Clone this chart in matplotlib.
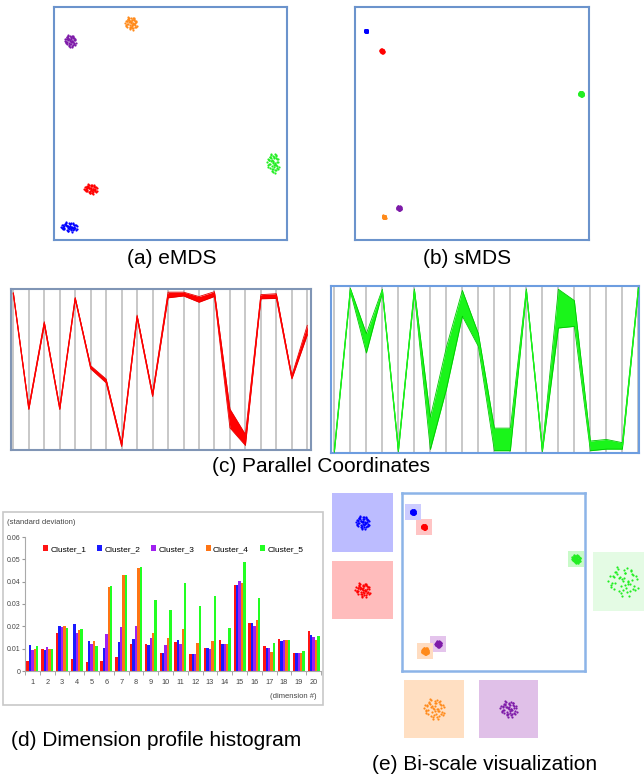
import matplotlib
matplotlib.use("Agg")
import matplotlib.pyplot as plt
from matplotlib.patches import Rectangle

plt.rcParams['font.family'] = ['Liberation Sans', 'DejaVu Sans']

W, H = 644, 777

cluster_names = ["Cluster_1", "Cluster_2", "Cluster_3", "Cluster_4", "Cluster_5"]
dot_colors = ["#ff0000", "#0000ff", "#7d1aa8", "#ff8a1a", "#22ee22"]
bar_colors = ["#ff1414", "#1a1aff", "#a020f0", "#ff7414", "#22ff22"]
tile_small = ["#ffc4c4", "#ccccff", "#e4c4ec", "#ffdcc0", "#c8fac8"]
tile_big = ["#ffbcbc", "#bcbcff", "#e0c0e8", "#ffdfc2", "#e4fbe4"]

# shared hand-read point offsets inside one cluster (unit half-extent)
jit_x = [0.12, -0.35, 0.58, -0.72, 0.05, 0.41, -0.18, 0.87, -0.55, 0.26,
         -0.91, 0.33, -0.08, 0.64, -0.44, 0.19, -0.27, 0.76, -0.63, 0.02,
         0.48, -0.12, 0.31, -0.38, 0.69, -0.81, 0.15, -0.52, 0.92, -0.22,
         0.07, 0.55, -0.67, 0.24, -0.05, 0.38, -0.47, 0.81, -0.15, 0.44,
         -0.29, 0.61, -0.74, 0.10, -0.58, 0.29, -0.02, 0.50]
jit_y = [-0.21, 0.44, 0.09, -0.33, 0.71, -0.62, 0.28, 0.15, -0.48, 0.83,
         0.06, -0.17, -0.88, 0.39, 0.57, -0.41, 0.19, -0.55, 0.32, 0.02,
         0.66, -0.73, -0.04, 0.91, -0.26, 0.37, 0.51, -0.12, -0.38, -0.59,
         0.24, 0.47, -0.08, -0.69, 0.13, -0.94, 0.61, 0.35, -0.31, -0.14,
         0.78, -0.46, -0.19, 0.54, 0.27, 0.03, -0.52, 0.73]

# (a) eMDS cluster centres / spread
emds_x = [0.157, 0.064, 0.069, 0.330, 0.940]
emds_y = [0.219, 0.056, 0.854, 0.930, 0.330]
emds_sx = [0.030, 0.038, 0.026, 0.027, 0.027]
emds_sy = [0.022, 0.021, 0.028, 0.030, 0.045]

# (b) sMDS
smds_x = [0.115, 0.047, 0.188, 0.124, 0.966]
smds_y = [0.811, 0.897, 0.137, 0.099, 0.627]
smds_s = [0.008, 0.006, 0.009, 0.007, 0.011]

# (e) bi-scale: overview positions and magnified spread
bi_x = [0.120, 0.060, 0.197, 0.126, 0.951]
bi_y = [0.809, 0.893, 0.152, 0.112, 0.629]
bi_s = [0.014, 0.014, 0.017, 0.020, 0.024]
zoom_s = [0.13, 0.12, 0.15, 0.19, 0.27]

# (c) parallel coordinates, 20 dims
dims = list(range(1, 21))
pc_red_mid = [0.985, 0.254, 0.795, 0.254, 0.953, 0.515, 0.428, 0.021, 0.837, 0.339,
              0.975, 0.981, 0.947, 0.981, 0.190, 0.053, 0.964, 0.968, 0.451, 0.752]
pc_red_sp = [0.004, 0.008, 0.010, 0.008, 0.006, 0.010, 0.012, 0.010, 0.010, 0.010,
             0.018, 0.012, 0.018, 0.015, 0.060, 0.035, 0.013, 0.015, 0.010, 0.030]
pc_grn_mid = [0.000, 0.996, 0.665, 0.990, 0.004, 0.990, 0.107, 0.510, 0.913, 0.686,
              0.070, 0.070, 0.990, 0.004, 0.880, 0.850, 0.030, 0.040, 0.030, 1.000]
pc_grn_sp = [0.010, 0.010, 0.060, 0.010, 0.010, 0.012, 0.100, 0.130, 0.080, 0.040,
             0.070, 0.070, 0.012, 0.010, 0.120, 0.080, 0.030, 0.030, 0.020, 0.010]

# (d) standard deviation per dimension
hist_c1 = [0.0043, 0.0099, 0.0171, 0.0053, 0.0040, 0.0046, 0.0062, 0.0122, 0.0122, 0.0080,
           0.0129, 0.0074, 0.0104, 0.0137, 0.0383, 0.0217, 0.0110, 0.0144, 0.0082, 0.0180]
hist_c2 = [0.0118, 0.0095, 0.0203, 0.0211, 0.0134, 0.0104, 0.0129, 0.0144, 0.0116, 0.0080,
           0.0137, 0.0074, 0.0101, 0.0120, 0.0383, 0.0215, 0.0101, 0.0135, 0.0079, 0.0162]
hist_c3 = [0.0092, 0.0107, 0.0199, 0.0169, 0.0122, 0.0166, 0.0196, 0.0203, 0.0147, 0.0117,
           0.0120, 0.0074, 0.0098, 0.0120, 0.0401, 0.0202, 0.0101, 0.0140, 0.0082, 0.0153]
hist_c4 = [0.0100, 0.0099, 0.0202, 0.0184, 0.0135, 0.0377, 0.0428, 0.0462, 0.0169, 0.0149,
           0.0189, 0.0126, 0.0135, 0.0120, 0.0395, 0.0230, 0.0083, 0.0141, 0.0080, 0.0141]
hist_c5 = [0.0110, 0.0099, 0.0192, 0.0189, 0.0111, 0.0379, 0.0428, 0.0465, 0.0318, 0.0273,
           0.0392, 0.0291, 0.0336, 0.0192, 0.0487, 0.0327, 0.0126, 0.0138, 0.0088, 0.0157]
hist_all = [hist_c1, hist_c2, hist_c3, hist_c4, hist_c5]

fig = plt.figure(figsize=(W / 100, H / 100), dpi=100)


def px_axes(x0, y0, x1, y1):
    return fig.add_axes([x0 / W, 1 - y1 / H, (x1 - x0) / W, (y1 - y0) / H])


def box_style(ax, edge, lw=1.5):
    ax.set_xlim(0, 1)
    ax.set_ylim(0, 1)
    ax.set_xticks([])
    ax.set_yticks([])
    for s in ax.spines.values():
        s.set_color(edge)
        s.set_linewidth(lw)


def cloud(ax, cx, cy, sx, sy, color, size):
    xs = [cx + sx * j for j in jit_x]
    ys = [cy + sy * j for j in jit_y]
    ax.scatter(xs, ys, s=size, c=color, linewidths=0)


# (a) eMDS
ax = px_axes(54, 7, 287, 240)
box_style(ax, "#6b93cc")
for i in range(5):
    cloud(ax, emds_x[i], emds_y[i], emds_sx[i], emds_sy[i], dot_colors[i], 2.5)

# (b) sMDS
ax = px_axes(355, 7, 589, 240)
box_style(ax, "#6b93cc")
for i in range(5):
    cloud(ax, smds_x[i], smds_y[i], smds_s[i], smds_s[i], dot_colors[i], 3)

fig.text(172 / W, 1 - 258 / H, "(a) eMDS", ha="center", va="center", fontsize=15)
fig.text(467 / W, 1 - 258 / H, "(b) sMDS", ha="center", va="center", fontsize=15)


# (c) parallel coordinates
def pc_panel(box, xlim, ylim, mid, sp, fill, edge, frame):
    ax = px_axes(*box)
    for d in dims:
        ax.axvline(d, color="#c4c4c4", lw=1.3, zorder=0)
    lo = [m - s for m, s in zip(mid, sp)]
    hi = [m + s for m, s in zip(mid, sp)]
    ax.fill_between(dims, lo, hi, color=fill, lw=0, zorder=2)
    ax.plot(dims, lo, color=edge, lw=0.6, zorder=3)
    ax.plot(dims, hi, color=edge, lw=0.6, zorder=3)
    ax.plot(dims, mid, color=fill, lw=0.9, zorder=3)
    ax.set_xlim(*xlim)
    ax.set_ylim(*ylim)
    ax.set_xticks([])
    ax.set_yticks([])
    for s in ax.spines.values():
        s.set_color(frame)
        s.set_linewidth(1.5)


pc_panel((11, 289, 311, 450), (0.85, 20.24), (-0.011, 1.013),
         pc_red_mid, pc_red_sp, "#ff0000", "#e80000", "#8095b5")
pc_panel((331, 286, 639, 453), (0.79, 20.04), (-0.014, 1.02),
         pc_grn_mid, pc_grn_sp, "#1af51a", "#00c800", "#6d9de0")
fig.text(321 / W, 1 - 467 / H, "(c) Parallel Coordinates", ha="center", va="center", fontsize=15)

# (d) dimension profile histogram
fig.patches.append(Rectangle((3 / W, 1 - 705 / H), 320 / W, 193 / H, transform=fig.transFigure,
                             fill=False, edgecolor="#c8c8c8", lw=1.2))
ax = px_axes(25, 537, 321, 671)
bw = 0.16
for i in range(5):
    xs = [d + (i - 2) * bw for d in dims]
    ax.bar(xs, hist_all[i], width=bw, color=bar_colors[i], label=cluster_names[i], lw=0)
ax.set_xlim(0.5, 20.5)
ax.set_ylim(0, 0.06)
ax.set_yticks([0, 0.01, 0.02, 0.03, 0.04, 0.05, 0.06])
ax.set_yticklabels(["0", "0.01", "0.02", "0.03", "0.04", "0.05", "0.06"])
ax.set_xticks(dims)
ax.set_xticklabels([str(d) for d in dims])
ax.set_xticks([d + 0.5 for d in range(0, 21)], minor=True)
ax.tick_params(axis="x", which="major", length=0, labelsize=5.3, pad=6, colors="#444444")
ax.tick_params(axis="x", which="minor", length=3, color="#999999")
ax.tick_params(axis="y", length=2, pad=1.5, labelsize=5, color="#999999", labelcolor="#444444")
for s in ["top", "right"]:
    ax.spines[s].set_visible(False)
for s in ["left", "bottom"]:
    ax.spines[s].set_color("#aaaaaa")
    ax.spines[s].set_linewidth(0.8)
ax.legend(ncol=5, loc="center", bbox_to_anchor=(173 / W, 1 - 549 / H),
          bbox_transform=fig.transFigure, frameon=False, fontsize=6,
          handlelength=0.6, handleheight=0.8, handletextpad=0.3, columnspacing=1.3)
fig.text(7 / W, 1 - 523 / H, "(standard deviation)", ha="left", va="center",
         fontsize=5.5, color="#444444")
fig.text(316 / W, 1 - 697 / H, "(dimension #)", ha="right", va="center",
         fontsize=5.5, color="#444444")
fig.text(156 / W, 1 - 740 / H, "(d) Dimension profile histogram", ha="center", va="center", fontsize=15)

# (e) bi-scale visualization
ax = px_axes(402, 493, 585, 671)
box_style(ax, "#8cb4e8", lw=1.8)
tw, th = 0.088, 0.09
for i in range(5):
    ax.add_patch(Rectangle((bi_x[i] - tw / 2, bi_y[i] - th / 2), tw, th,
                           facecolor=tile_small[i], edgecolor="none", zorder=1))
    cloud(ax, bi_x[i], bi_y[i], bi_s[i], bi_s[i], dot_colors[i], 3)

big_boxes = [(332, 561, 393, 619), (332, 493, 393, 552), (479, 680, 538, 738),
             (404, 680, 464, 738), (593, 552, 653, 611)]
for i, bb in enumerate(big_boxes):
    axz = px_axes(*bb)
    axz.set_facecolor(tile_big[i])
    box_style(axz, "none", lw=0)
    for s in axz.spines.values():
        s.set_visible(False)
    cloud(axz, 0.5, 0.5, zoom_s[i], zoom_s[i], dot_colors[i], 2.5)

fig.text(485 / W, 1 - 765 / H, "(e) Bi-scale visualization", ha="center", va="center", fontsize=15)

fig.savefig("out.png", dpi=100)
